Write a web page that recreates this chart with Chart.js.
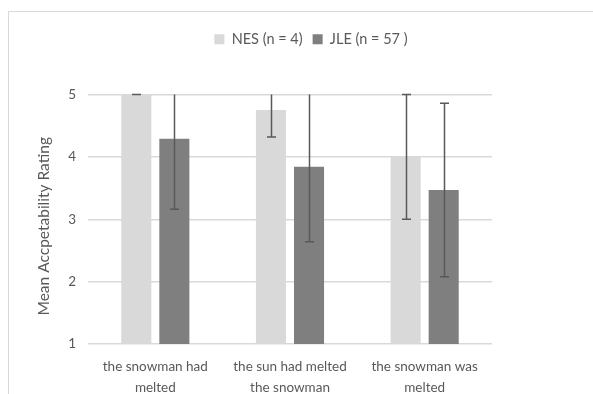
<!DOCTYPE html>
<html>
<head>
<meta charset="utf-8">
<script src="https://cdn.jsdelivr.net/npm/chart.js@4.4.1/dist/chart.umd.min.js"></script>
<style>
  html, body { margin: 0; padding: 0; background: #ffffff; }
  #wrap { position: relative; width: 593px; height: 394px; overflow: hidden; }
  #frame { position: absolute; left: 8px; top: 11px; width: 620px; height: 420px;
           border: 1.5px solid #d9d9d9; box-sizing: border-box; }
  #c { position: absolute; left: 0; top: 0; }
</style>
</head>
<body>
<div id="wrap">
  <div id="frame"></div>
  <canvas id="c" width="593" height="394"></canvas>
</div>
<script>
// Sentence categories (two-line labels)
const categories = [
  ['the snowman had', 'melted'],
  ['the sun had melted', 'the snowman'],
  ['the snowman was', 'melted']
];
const seriesNames = ['NES (n = 4)', 'JLE (n = 57 )'];
const yTitle = 'Mean Accpetability Rating';
// Mean ratings
const nesMeans = [5.00, 4.75, 4.00];
const jleMeans = [4.29, 3.84, 3.47];
// Standard deviations (error bar half-lengths)
const nesSD = [0.00, 0.43, 1.00];
const jleSD = [1.13, 1.20, 1.39];
const yTicks = [1, 2, 3, 4, 5];

const FONT = "Lato, 'Open Sans', sans-serif";
const TEXT = '#595959';

// Draws symmetric error bars, clipped to the plot area; caps only where inside
const errorBars = {
  id: 'errorBars',
  afterDatasetsDraw(chart) {
    const ctx = chart.ctx;
    const y = chart.scales.y;
    const area = chart.chartArea;
    const sds = [nesSD, jleSD];
    ctx.save();
    ctx.strokeStyle = '#595959';
    ctx.lineWidth = 1.5;
    chart.data.datasets.forEach((ds, di) => {
      const meta = chart.getDatasetMeta(di);
      meta.data.forEach((bar, i) => {
        const v = ds.data[i];
        const hi = v + sds[di][i];
        const lo = v - sds[di][i];
        const x = Math.round(bar.x) + 0.5;
        const yHi = Math.max(y.getPixelForValue(Math.min(hi, y.max)), area.top);
        const yLo = Math.min(y.getPixelForValue(Math.max(lo, y.min)), area.bottom);
        ctx.beginPath();
        ctx.moveTo(x, yHi);
        ctx.lineTo(x, yLo);
        const cap = 4.5;
        if (hi <= y.max) { ctx.moveTo(x - cap, yHi); ctx.lineTo(x + cap, yHi); }
        if (lo >= y.min) { ctx.moveTo(x - cap, yLo); ctx.lineTo(x + cap, yLo); }
        ctx.stroke();
      });
    });
    ctx.restore();
  }
};

// Rotated value-axis title, set slightly below the plot's vertical centre
const axisTitle = {
  id: 'axisTitle',
  afterDraw(chart) {
    const ctx = chart.ctx;
    const area = chart.chartArea;
    ctx.save();
    ctx.translate(44, (area.top + area.bottom) / 2 + 7);
    ctx.rotate(-Math.PI / 2);
    ctx.font = '15.5px ' + FONT;
    ctx.fillStyle = TEXT;
    ctx.textAlign = 'center';
    ctx.textBaseline = 'middle';
    ctx.fillText(yTitle, 0, 0);
    ctx.restore();
  }
};

// Extra space below the legend, and legend centred on the whole frame
const legendLayout = {
  id: 'legendLayout',
  beforeInit(chart) {
    const legend = chart.legend;
    const fit = legend.fit;
    legend.fit = function () {
      fit.call(this);
      this.height += 38;
    };
    const draw = legend.draw;
    legend.draw = function () {
      const l = this.left, r = this.right;
      this.left = 0;
      this.right = 622;
      draw.call(this);
      this.left = l;
      this.right = r;
    };
  }
};

new Chart(document.getElementById('c'), {
  type: 'bar',
  data: {
    labels: categories,
    datasets: [
      { label: seriesNames[0], data: nesMeans, backgroundColor: '#d9d9d9' },
      { label: seriesNames[1], data: jleMeans, backgroundColor: '#7f7f7f' }
    ]
  },
  options: {
    responsive: false,
    animation: false,
    devicePixelRatio: 1,
    categoryPercentage: 0.565,
    barPercentage: 0.79,
    layout: { padding: { left: 28, right: 101, top: 22, bottom: 0 } },
    plugins: {
      legend: {
        position: 'top',
        labels: {
          boxWidth: 10, boxHeight: 10, padding: 10,
          color: TEXT, font: { family: FONT, size: 14.5 }
        }
      },
      tooltip: { enabled: false }
    },
    scales: {
      x: {
        grid: { display: false, drawTicks: false },
        border: { display: false },
        ticks: {
          color: TEXT, padding: 13, maxRotation: 0,
          font: { family: FONT, size: 13.5, lineHeight: 1.5 }
        },
        afterFit(scale) { scale.height = 50; }
      },
      y: {
        min: 1, max: 5,
        afterBuildTicks(scale) { scale.ticks = yTicks.map(v => ({ value: v })); },
        grid: { color: '#d9d9d9', lineWidth: 1.5, drawTicks: false },
        border: { display: false },
        ticks: { color: TEXT, padding: 12, font: { family: FONT, size: 13.5 } },
        afterFit(scale) { scale.width = 60; }
      }
    }
  },
  plugins: [errorBars, axisTitle, legendLayout]
});
</script>
</body>
</html>
